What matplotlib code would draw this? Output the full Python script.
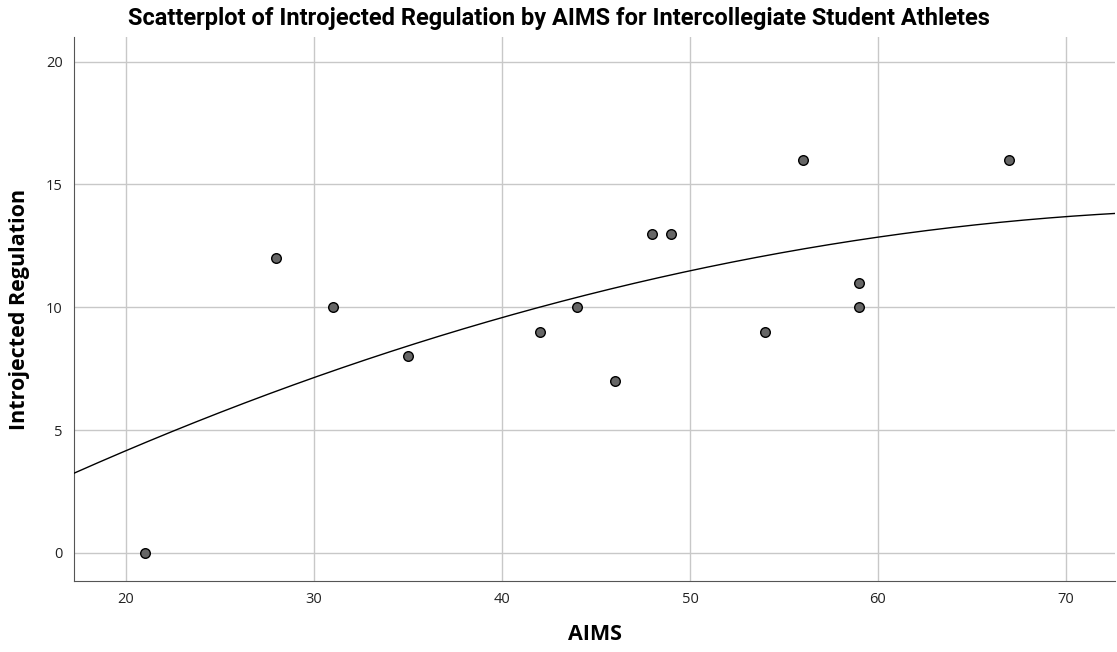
import numpy as np
import matplotlib.pyplot as plt

# Datos
aims = [21, 28, 31, 35, 42, 44, 46, 48, 49, 54, 56, 59, 59, 67]
introjected = [0, 12, 10, 8, 9, 10, 7, 13, 13, 9, 16, 11, 10, 16]
x_ticks = [20, 30, 40, 50, 60, 70]
y_ticks = [0, 5, 10, 15, 20]

plt.rcParams['font.family'] = ['Open Sans', 'DejaVu Sans']

fig = plt.figure(figsize=(11.17, 6.52), dpi=100)
ax = fig.add_axes([0.0662, 0.1089, 0.9318, 0.8344])

# Ajuste cuadratico
coef = np.polyfit(aims, introjected, 2)
xs = np.linspace(17.23, 72.6, 300)
ax.plot(xs, np.polyval(coef, xs), color='black', lw=1.0, zorder=3)

ax.scatter(aims, introjected, s=48, facecolor='#666666', edgecolor='black',
           linewidth=1.0, zorder=4)

ax.set_xlim(17.23, 72.6)
ax.set_ylim(-1.14, 21.0)
ax.set_xticks(x_ticks)
ax.set_yticks(y_ticks)
ax.grid(True, color='#c8c8c8', lw=1.0)
ax.set_axisbelow(True)
for s in ['top', 'right']:
    ax.spines[s].set_visible(False)
for s in ['left', 'bottom']:
    ax.spines[s].set_color('#555555')
ax.tick_params(length=0, labelsize=10.5, colors='#222222', pad=8)

# Etiquetas de los ejes
fig.text(595/1117, 1 - 634/652, "AIMS", fontsize=15.5, fontweight='bold',
         ha='center', va='center')
fig.text(20/1117, 1 - 309/652, "Introjected Regulation", fontsize=15.5,
         fontweight='bold', rotation=90, ha='center', va='center')
fig.text(0.5, 1 - 18/652,
         "Scatterplot of Introjected Regulation by AIMS for Intercollegiate Student Athletes",
         fontsize=17, fontweight='bold', ha='center', va='center',
         family=['Roboto', 'DejaVu Sans'])

fig.savefig("out.png", dpi=100)
